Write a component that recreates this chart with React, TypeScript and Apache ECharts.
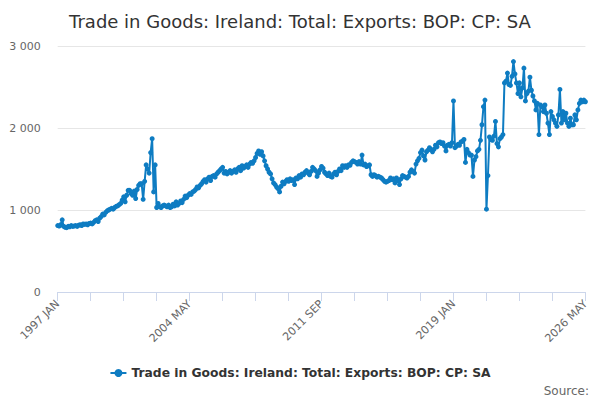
import React, { useEffect, useRef } from "react";
import * as echarts from "echarts";

const TITLE = "Trade in Goods: Ireland: Total: Exports: BOP: CP: SA";
const SERIES_NAME = "Trade in Goods: Ireland: Total: Exports: BOP: CP: SA";
const MONTHS = ["JAN", "FEB", "MAR", "APR", "MAY", "JUN", "JUL", "AUG", "SEP", "OCT", "NOV", "DEC"];
const FIRST_YEAR = 1997;
const Y_TICKS = [0, 1000, 2000, 3000];

const v1997 = [810, 805, 820, 880, 800, 790, 785, 800, 795, 810, 800, 805];
const v1998 = [810, 800, 815, 820, 810, 830, 825, 830, 820, 835, 840, 830];
const v1999 = [850, 870, 880, 860, 900, 920, 950, 940, 970, 990, 1000, 1010];
const v2000 = [1020, 1010, 1030, 1045, 1050, 1065, 1080, 1120, 1160, 1100, 1180, 1240];
const v2001 = [1240, 1200, 1180, 1230, 1140, 1250, 1300, 1320, 1320, 1130, 1350, 1550];
const v2002 = [1500, 1450, 1700, 1870, 1220, 1550, 1030, 1080, 1040, 1030, 1050, 1060];
const v2003 = [1050, 1040, 1060, 1030, 1040, 1070, 1050, 1100, 1060, 1080, 1110, 1090];
const v2004 = [1130, 1170, 1150, 1180, 1200, 1190, 1220, 1230, 1250, 1280, 1270, 1300];
const v2005 = [1320, 1350, 1370, 1340, 1380, 1400, 1360, 1410, 1420, 1400, 1440, 1460];
const v2006 = [1480, 1500, 1520, 1450, 1470, 1440, 1460, 1480, 1450, 1470, 1490, 1460];
const v2007 = [1500, 1520, 1480, 1540, 1510, 1530, 1550, 1520, 1560, 1580, 1570, 1600];
const v2008 = [1640, 1690, 1720, 1680, 1710, 1660, 1600, 1540, 1500, 1460, 1440, 1380];
const v2009 = [1330, 1310, 1280, 1260, 1220, 1290, 1340, 1320, 1350, 1370, 1350, 1380];
const v2010 = [1360, 1370, 1310, 1390, 1380, 1420, 1400, 1440, 1430, 1460, 1480, 1450];
const v2011 = [1430, 1470, 1520, 1500, 1480, 1410, 1450, 1490, 1530, 1510, 1460, 1440];
const v2012 = [1420, 1450, 1410, 1400, 1440, 1460, 1430, 1470, 1500, 1480, 1540, 1520];
const v2013 = [1540, 1520, 1550, 1545, 1580, 1600, 1590, 1580, 1560, 1590, 1560, 1670];
const v2014 = [1550, 1560, 1530, 1540, 1550, 1430, 1410, 1430, 1420, 1400, 1410, 1400];
const v2015 = [1390, 1370, 1350, 1340, 1350, 1360, 1390, 1370, 1380, 1330, 1390, 1360];
const v2016 = [1310, 1380, 1420, 1410, 1400, 1390, 1410, 1460, 1490, 1470, 1450, 1560];
const v2017 = [1600, 1630, 1700, 1730, 1660, 1610, 1710, 1730, 1760, 1740, 1710, 1740];
const v2018 = [1790, 1770, 1820, 1830, 1810, 1820, 1780, 1720, 1790, 1800, 1780, 1820];
const v2019 = [2330, 1760, 1780, 1800, 1790, 1830, 1840, 1860, 1580, 1740, 1700, 1670];
const v2020 = [1670, 1410, 1610, 1650, 1720, 1740, 1850, 2040, 2260, 2340, 1010, 1420];
const v2021 = [1890, 1860, 1850, 1900, 2080, 1810, 1770, 1870, 1890, 1920, 2550, 2570];
const v2022 = [2670, 2530, 2520, 2630, 2810, 2660, 2550, 2420, 2550, 2380, 2490, 2730];
const v2023 = [2330, 2420, 2450, 2620, 2460, 2390, 2330, 2220, 2300, 1920, 2280, 2260];
const v2024 = [2200, 2280, 2180, 2060, 1920, 2200, 2140, 2100, 2060, 2020, 2160, 2470];
const v2025 = [2060, 2200, 2100, 2180, 2060, 2020, 2120, 2040, 2040, 2160, 2100, 2220];
const v2026 = [2300, 2340, 2320, 2340, 2320];

const YEARLY = [
  v1997, v1998, v1999, v2000, v2001, v2002, v2003, v2004, v2005, v2006,
  v2007, v2008, v2009, v2010, v2011, v2012, v2013, v2014, v2015, v2016,
  v2017, v2018, v2019, v2020, v2021, v2022, v2023, v2024, v2025, v2026,
];

const values: number[] = [];
const categories: string[] = [];
YEARLY.forEach((row, yi) => {
  row.forEach((v, mi) => {
    values.push(v);
    categories.push(`${FIRST_YEAR + yi} ${MONTHS[mi]}`);
  });
});

const FONT = "DejaVu Sans";
const LINE_COLOR = "#0e7cc2";

function fmt(v: number) {
  return String(v).replace(/\B(?=(\d{3})+(?!\d))/g, " ");
}

export default function App() {
  const ref = useRef<HTMLDivElement>(null);
  useEffect(() => {
    document.body.style.margin = "0";
    const chart = echarts.init(ref.current!, null, { renderer: "svg" });
    chart.setOption({
      animation: false,
      backgroundColor: "#ffffff",
      textStyle: { fontFamily: FONT },
      title: {
        text: TITLE,
        left: "center",
        top: 7,
        textStyle: { fontFamily: FONT, fontSize: 18, fontWeight: "normal", color: "#333333" },
      },
      legend: {
        bottom: 16,
        left: "center",
        itemWidth: 16,
        itemHeight: 10,
        itemGap: 20,
        textStyle: { fontFamily: FONT, fontSize: 12.3, fontWeight: "bold", color: "#333333" },
        data: [{ name: SERIES_NAME }],
      },
      grid: { left: 57.7, right: 14.6, top: 46, bottom: 108 },
      xAxis: {
        type: "category",
        data: categories,
        boundaryGap: false,
        axisLine: { lineStyle: { color: "#ccd6eb", width: 1 } },
        axisTick: { show: true, interval: 21, length: 9, lineStyle: { color: "#ccd6eb" } },
        axisLabel: {
          interval: 87,
          rotate: 45,
          margin: 10,
          fontFamily: FONT,
          fontSize: 11,
          color: "#666666",
        },
        splitLine: { show: false },
      },
      yAxis: {
        type: "value",
        min: Y_TICKS[0],
        max: Y_TICKS[Y_TICKS.length - 1],
        interval: 1000,
        axisLine: { show: false },
        axisTick: { show: false },
        axisLabel: { margin: 17, fontFamily: FONT, fontSize: 11, color: "#666666", formatter: fmt },
        splitLine: { lineStyle: { color: "#e6e6e6", width: 1 } },
      },
      series: [
        {
          name: SERIES_NAME,
          type: "line",
          data: values,
          showSymbol: true,
          showAllSymbol: true,
          symbol: "circle",
          symbolSize: 5,
          itemStyle: { color: LINE_COLOR },
          lineStyle: { color: LINE_COLOR, width: 2 },
        },
      ],
      graphic: [
        {
          type: "text",
          right: 11,
          top: 385,
          style: { text: "Source:", fontFamily: FONT, fontSize: 12, fill: "#666666" },
        },
      ],
    });
    return () => chart.dispose();
  }, []);
  return <div ref={ref} style={{ width: 600, height: 400 }} />;
}
